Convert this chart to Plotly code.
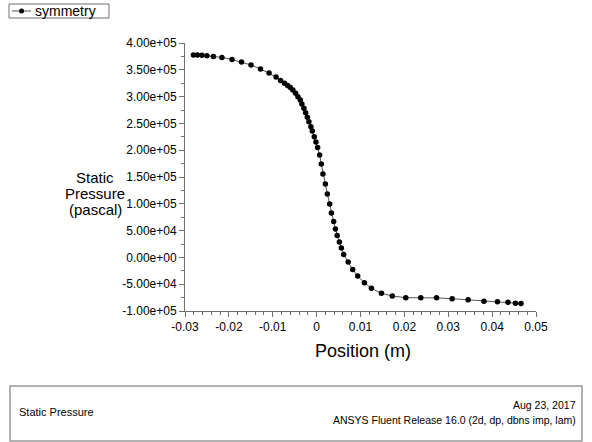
import plotly.graph_objects as go

# ---- data ----
position_m = [
    -0.02808, -0.02717, -0.02614, -0.02500, -0.02352, -0.02158, -0.01929, -0.01712,
    -0.01495, -0.01279, -0.01084, -0.00925, -0.00822, -0.00731, -0.00662, -0.00600,
    -0.00541, -0.00479, -0.00427, -0.00372, -0.00336, -0.00290, -0.00251, -0.00212,
    -0.00176, -0.00130, -0.00098, -0.00053, -0.00016, 0.00023, 0.00068, 0.00107,
    0.00144, 0.00199, 0.00244, 0.00297, 0.00336, 0.00388, 0.00429, 0.00468,
    0.00518, 0.00564, 0.00616, 0.00719, 0.00822, 0.00936, 0.01089, 0.01249,
    0.01477, 0.01724, 0.02032, 0.02374, 0.02733, 0.03089, 0.03454, 0.03813,
    0.04121, 0.04361, 0.04532, 0.04658,
]
static_pressure_pa = [
    377600, 377500, 377100, 376300, 374800, 373000, 369200, 364600,
    359000, 351500, 344000, 336600, 330000, 324800, 320700, 317000,
    312300, 306200, 299800, 293700, 286200, 278200, 270000, 261400,
    253200, 243800, 235800, 225200, 215300, 205000, 191000, 174300,
    155600, 136900, 118300, 99600, 82800, 67000, 53000, 40900,
    28700, 17500, 5400, -8600, -22600, -34700, -47200, -57700,
    -67000, -72000, -75200, -75400, -75500, -77100, -78900, -81700,
    -82700, -83800, -85400, -86000,
]
series_name = "symmetry"
x_tick_values = [-0.03, -0.02, -0.01, 0, 0.01, 0.02, 0.03, 0.04, 0.05]
x_tick_labels = ["-0.03", "-0.02", "-0.01", "0", "0.01", "0.02", "0.03", "0.04", "0.05"]
y_tick_values = [400000, 350000, 300000, 250000, 200000, 150000, 100000, 50000, 0, -50000, -100000]
y_tick_labels = [f"{v:.2e}" for v in y_tick_values]
x_title = "Position (m)"
y_title_lines = ["Static", "Pressure", "(pascal)"]
footer_left = "Static Pressure"
footer_right_1 = "Aug 23, 2017"
footer_right_2 = "ANSYS Fluent Release 16.0 (2d, dp, dbns imp, lam)"

# ---- layout geometry (pixels) ----
W, H = 592, 442
L, R, T, B = 185, 56, 43, 131
PW, PH = W - L - R, H - T - B
FONT = "Liberation Sans, Arial, sans-serif"
AXC = "#707070"
LINE_C = "#555555"


def px(x):
    return (x - L) / PW


def py(y):
    return (H - B - y) / PH


fig = go.Figure()
fig.add_trace(go.Scatter(
    x=position_m, y=static_pressure_pa, name=series_name,
    mode="lines+markers",
    line=dict(color=LINE_C, width=1),
    marker=dict(symbol="circle", size=5.5, color="black"),
    showlegend=False,
))

axis_common = dict(
    showgrid=False, zeroline=False, showline=True, linecolor=AXC, linewidth=1,
    ticks="outside", ticklen=5, tickcolor=AXC, tickwidth=1,
    tickfont=dict(family=FONT, size=12, color="black"),
)
fig.update_xaxes(
    range=[-0.03, 0.05], tickvals=x_tick_values, ticktext=x_tick_labels,
    minor=dict(ticks="outside", ticklen=3, dtick=0.002, tick0=0, tickcolor=AXC),
    **axis_common,
)
fig.update_yaxes(
    range=[-100000, 400000], tickvals=y_tick_values, ticktext=y_tick_labels,
    minor=dict(ticks="outside", ticklen=3, dtick=25000, tick0=0, tickcolor=AXC),
    **axis_common,
)

shapes = [
    # footer box
    dict(type="rect", xref="paper", yref="paper",
         x0=px(10), x1=px(582), y0=py(386), y1=py(441),
         line=dict(color="#999999", width=1.5), fillcolor="rgba(0,0,0,0)"),
    # legend box
    dict(type="rect", xref="paper", yref="paper",
         x0=px(9), x1=px(109), y0=py(4), y1=py(18),
         line=dict(color=AXC, width=1), fillcolor="white"),
    # legend sample line
    dict(type="line", xref="paper", yref="paper",
         x0=px(12), x1=px(31), y0=py(11), y1=py(11),
         line=dict(color=LINE_C, width=1)),
    # legend sample marker
    dict(type="circle", xref="paper", yref="paper",
         x0=px(19), x1=px(24), y0=py(8.5), y1=py(13.5),
         line=dict(color="black", width=0), fillcolor="black"),
]

annotations = [
    dict(text=series_name, xref="paper", yref="paper", x=px(33), y=py(11),
         xanchor="left", yanchor="middle", showarrow=False,
         font=dict(family=FONT, size=14, color="black")),
    dict(text=x_title, xref="paper", yref="paper", x=px(363), y=py(351),
         xanchor="center", yanchor="middle", showarrow=False,
         font=dict(family=FONT, size=18, color="black")),
    dict(text=footer_left, xref="paper", yref="paper", x=px(17), y=py(412),
         xanchor="left", yanchor="middle", showarrow=False,
         font=dict(family=FONT, size=11, color="black")),
    dict(text=footer_right_1, xref="paper", yref="paper", x=px(578), y=py(405),
         xanchor="right", yanchor="middle", showarrow=False,
         font=dict(family=FONT, size=10.5, color="black")),
    dict(text=footer_right_2, xref="paper", yref="paper", x=px(578), y=py(420),
         xanchor="right", yanchor="middle", showarrow=False,
         font=dict(family=FONT, size=10.5, color="black")),
]
for i, line_text in enumerate(y_title_lines):
    annotations.append(dict(
        text=line_text, xref="paper", yref="paper", x=px(95), y=py(177 + 16 * i),
        xanchor="center", yanchor="middle", showarrow=False,
        font=dict(family=FONT, size=15, color="black")))

fig.update_layout(
    width=W, height=H,
    margin=dict(l=L, r=R, t=T, b=B, autoexpand=False),
    paper_bgcolor="white", plot_bgcolor="white",
    font=dict(family=FONT, color="black"),
    shapes=shapes,
    annotations=annotations,
)

fig.write_html("out.html")
